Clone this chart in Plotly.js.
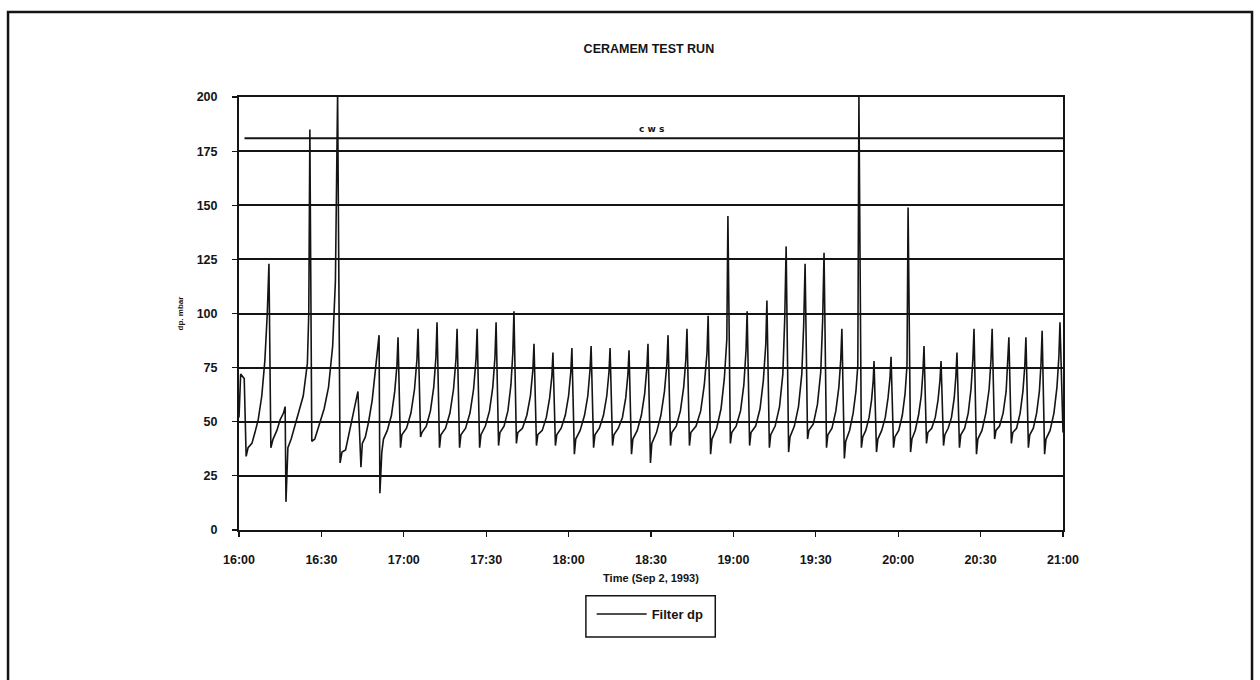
<!DOCTYPE html>
<html>
<head>
<meta charset="utf-8">
<script src="https://cdn.plot.ly/plotly-3.0.1.min.js"></script>
<style>
  html, body { margin: 0; padding: 0; background: #fff; }
  #chart { width: 1260px; height: 680px; }
</style>
</head>
<body>
<div id="chart"></div>
<script>
// Filter differential pressure logged on 2 Sep 1993, 16:00 to 21:00.
// Time is given in minutes after 16:00; one line per filter cycle
// (trough after backpulse, ramp, peak).
const runDate = '1993-09-02';
const startHour = 16;

const minutes = [
  0.0, 0.6, 1.9, 2.6, 3.3, 4.7, 5.8, 7.0, 8.3, 9.4, 10.3, 10.9,
  11.6, 12.4, 13.8, 15.0, 16.2, 16.8, 17.1,
  17.8, 19.0, 21.0, 23.4, 24.9, 25.4, 25.8,
  26.5, 27.6, 29.0, 31.0, 32.6, 34.1, 35.1, 35.9,
  36.8, 37.5, 38.8, 40.0, 41.5, 42.5, 43.3,
  44.4, 44.9, 46.0, 47.2, 48.5, 49.8, 51.0, 51.3,
  52.0, 52.6, 54.0, 55.5, 56.7, 57.5, 57.9,
  58.8, 59.3, 61.0, 62.6, 63.9, 64.8, 65.2,
  66.1, 66.6, 68.2, 69.7, 70.9, 71.7, 72.1,
  73.0, 73.5, 75.2, 76.8, 78.1, 79.0, 79.4,
  80.3, 80.8, 82.5, 84.1, 85.4, 86.3, 86.7,
  87.6, 88.1, 89.7, 91.2, 92.4, 93.2, 93.6,
  94.5, 95.0, 96.5, 97.9, 99.0, 99.7, 100.1,
  101.0, 101.5, 103.2, 104.8, 106.1, 107.0, 107.4,
  108.3, 108.8, 110.4, 111.9, 113.1, 113.9, 114.3,
  115.2, 115.7, 117.3, 118.8, 120.0, 120.8, 121.2,
  122.1, 122.6, 124.2, 125.8, 127.0, 127.8, 128.2,
  129.1, 129.6, 131.2, 132.7, 133.9, 134.7, 135.1,
  136.0, 136.5, 138.1, 139.6, 140.8, 141.6, 142.0,
  142.9, 143.4, 145.0, 146.5, 147.7, 148.5, 148.9,
  149.8, 150.3, 152.0, 153.6, 154.9, 155.8, 156.2,
  157.1, 157.6, 159.2, 160.7, 161.9, 162.7, 163.1,
  164.0, 164.5, 166.4, 168.1, 169.4, 170.4, 170.8,
  171.7, 172.2, 173.9, 175.5, 176.7, 177.6, 178.0,
  178.9, 179.4, 181.0, 182.6, 183.8, 184.6, 185.0,
  185.9, 186.4, 188.1, 189.7, 190.9, 191.8, 192.2,
  193.1, 193.6, 195.2, 196.8, 198.0, 198.7, 199.2,
  200.1, 200.6, 202.2, 203.7, 204.9, 205.6, 206.1,
  207.0, 207.5, 209.1, 210.6, 211.8, 212.5, 213.0,
  213.9, 214.4, 215.9, 217.3, 218.4, 219.1, 219.5,
  220.4, 220.9, 222.3, 223.6, 224.6, 225.3, 225.7,
  226.6, 227.1, 228.2, 229.4, 230.3, 230.9, 231.2,
  232.1, 232.6, 234.0, 235.3, 236.3, 237.0, 237.4,
  238.3, 238.8, 240.2, 241.5, 242.5, 243.2, 243.6,
  244.5, 245.0, 246.2, 247.4, 248.4, 249.0, 249.4,
  250.3, 250.8, 252.2, 253.5, 254.5, 255.2, 255.6,
  256.5, 257.0, 258.2, 259.4, 260.4, 261.0, 261.4,
  262.3, 262.8, 264.2, 265.5, 266.5, 267.2, 267.6,
  268.5, 269.0, 270.5, 271.9, 273.1, 273.8, 274.2,
  275.1, 275.6, 276.9, 278.2, 279.3, 279.9, 280.3,
  281.2, 281.7, 283.1, 284.4, 285.4, 286.1, 286.5,
  287.4, 287.9, 289.2, 290.4, 291.4, 292.0, 292.4,
  293.3, 293.8, 295.3, 296.7, 297.8, 298.5, 298.9,
  299.5, 300.0
];

const dp = [
  52, 72, 70, 34, 38, 40, 45, 51, 62, 78, 100, 123,
  38, 42, 46, 51, 54, 57, 13,
  38, 42, 51, 62, 77, 100, 185,
  41, 42, 48, 56, 66, 85, 115, 202,
  31, 36, 37, 44, 52, 58, 64,
  29, 40, 43, 50, 60, 75, 90, 17,
  36, 42, 46, 53, 64, 76, 89,
  38, 44, 47, 54, 65, 79, 93,
  43, 45, 48, 55, 66, 80, 96,
  38, 44, 47, 54, 65, 79, 93,
  38, 44, 47, 54, 65, 79, 93,
  38, 44, 48, 55, 66, 80, 96,
  39, 45, 48, 55, 67, 82, 101,
  40, 45, 47, 53, 62, 74, 86,
  39, 44, 46, 52, 61, 71, 82,
  39, 44, 47, 53, 62, 73, 84,
  35, 42, 46, 53, 62, 74, 85,
  38, 44, 47, 53, 62, 73, 84,
  39, 44, 47, 52, 61, 72, 83,
  35, 42, 46, 53, 63, 75, 86,
  31, 40, 45, 53, 64, 77, 90,
  39, 45, 48, 55, 66, 79, 93,
  39, 45, 48, 55, 67, 82, 99,
  35, 42, 47, 56, 70, 88, 145,
  40, 45, 48, 55, 67, 83, 101,
  39, 45, 48, 56, 69, 86, 106,
  38, 44, 48, 57, 72, 98, 131,
  36, 43, 48, 57, 72, 95, 123,
  42, 46, 49, 58, 73, 97, 128,
  38, 44, 47, 55, 66, 79, 93,
  33, 41, 46, 54, 64, 76, 200,
  38, 43, 46, 52, 60, 69, 78,
  36, 42, 46, 52, 61, 70, 80,
  38, 43, 46, 53, 63, 76, 149,
  36, 42, 46, 53, 62, 73, 85,
  40, 45, 47, 52, 60, 69, 78,
  39, 44, 47, 52, 61, 71, 82,
  38, 44, 47, 54, 65, 79, 93,
  35, 42, 46, 54, 65, 79, 93,
  42, 46, 48, 54, 64, 76, 89,
  40, 45, 47, 54, 64, 76, 89,
  38, 44, 47, 54, 64, 77, 92,
  35, 42, 46, 54, 66, 80, 96,
  60, 45
];

// Hand-drawn CWS reference level
const cwsLevel = 181;
const cwsLabel = 'c w s';
const cwsLabelMinute = 150;

const seriesName = 'Filter dp';
const chartTitle = 'CERAMEM TEST RUN';
const xTitle = 'Time (Sep 2, 1993)';
const yTitle = 'dp. mbar';

function pad(n) { return (n < 10 ? '0' : '') + n; }
function stamp(m) {
  const secs = Math.round(m * 60);
  const h = startHour + Math.floor(secs / 3600);
  const mm = Math.floor((secs % 3600) / 60);
  const ss = secs % 60;
  return runDate + ' ' + pad(h) + ':' + pad(mm) + ':' + pad(ss);
}

const times = minutes.map(stamp);
const ink = '#141414';
const font = { family: 'Liberation Sans, Arial, sans-serif', color: ink, weight: 700 };

const trace = {
  type: 'scatter',
  mode: 'lines',
  x: times,
  y: dp,
  name: seriesName,
  line: { color: ink, width: 1.6 },
  showlegend: true
};

const layout = {
  width: 1260,
  height: 680,
  margin: { l: 239, r: 197, t: 97, b: 150 },
  paper_bgcolor: '#ffffff',
  plot_bgcolor: '#ffffff',
  font: font,
  title: {
    text: chartTitle,
    font: Object.assign({}, font, { size: 12.5 }),
    x: 0.515, xanchor: 'center',
    y: 0.929, yanchor: 'middle', yref: 'container'
  },
  xaxis: {
    type: 'date',
    range: [stamp(0), stamp(300)],
    dtick: 1800000,
    tickformat: '%H:%M',
    showgrid: false,
    zeroline: false,
    showline: true, mirror: true,
    linecolor: ink, linewidth: 2,
    ticks: 'outside', ticklen: 5, tickcolor: ink, tickwidth: 1.2,
    ticklabelstandoff: 12,
    tickfont: Object.assign({}, font, { size: 12.5 }),
    title: { text: xTitle, font: Object.assign({}, font, { size: 11 }), standoff: 8 }
  },
  yaxis: {
    range: [0, 200],
    dtick: 25,
    showgrid: true, gridcolor: ink, gridwidth: 2,
    zeroline: false,
    showline: true, mirror: true,
    linecolor: ink, linewidth: 2,
    ticks: 'outside', ticklen: 5, tickcolor: ink, tickwidth: 1.2,
    ticklabelstandoff: 12,
    tickfont: Object.assign({}, font, { size: 12.5 }),
    title: { text: yTitle, font: Object.assign({}, font, { size: 8 }), standoff: 12 }
  },
  legend: {
    x: 0.428, xanchor: 'left',
    y: -0.194, yanchor: 'middle',
    bgcolor: 'rgba(0,0,0,0)',
    borderwidth: 0,
    itemwidth: 50,
    font: Object.assign({}, font, { size: 13 })
  },
  shapes: [
    // CWS level line
    {
      type: 'line', xref: 'x', yref: 'y',
      x0: stamp(2), x1: stamp(300), y0: cwsLevel, y1: cwsLevel,
      line: { color: ink, width: 2 }
    },
    // legend box
    {
      type: 'rect', xref: 'paper', yref: 'paper',
      x0: 0.421, x1: 0.578, y0: -0.247, y1: -0.152,
      line: { color: ink, width: 1.5 }
    },
    // page frame
    {
      type: 'path', xref: 'paper', yref: 'paper',
      path: 'M -0.2803,-0.37 L -0.2803,1.1963 L 1.2294,1.1963 L 1.2294,-0.37',
      line: { color: ink, width: 2.5 }
    }
  ],
  annotations: [
    {
      x: stamp(cwsLabelMinute), y: cwsLevel, xref: 'x', yref: 'y',
      text: cwsLabel, showarrow: false, yshift: 9,
      font: { family: 'DejaVu Sans, sans-serif', size: 9, color: ink }
    }
  ]
};

Plotly.newPlot('chart', [trace], layout, { displayModeBar: false, staticPlot: true });
</script>
</body>
</html>
